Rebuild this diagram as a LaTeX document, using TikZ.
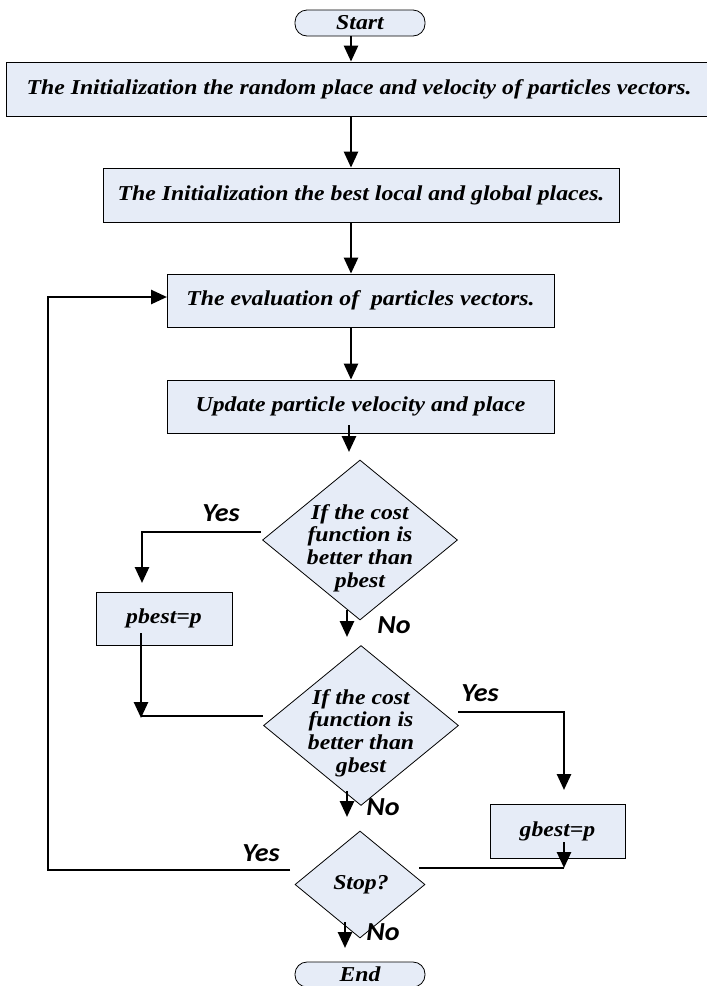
\documentclass[tikz,border=0pt]{standalone}
\usepackage{fontspec}
\setmainfont{Liberation Serif}[FakeStretch=1.12]
\newfontfamily\lblfont{Carlito}[FakeStretch=1.08]
\usetikzlibrary{shapes.geometric,arrows.meta}
\definecolor{boxfill}{RGB}{230,236,247}
\begin{document}
\begin{tikzpicture}[x=1pt,y=-1pt,
  txt/.style={font=\fontsize{21.2}{22.7}\selectfont\bfseries\itshape},
  box/.style={txt, draw=black, line width=0.8pt, fill=boxfill, inner sep=0pt},
  term/.style={box, rounded corners=12pt, minimum width=130pt, minimum height=26pt},
  dec/.style={diamond, draw=black, line width=0.8pt, fill=boxfill, inner sep=0pt},
  dtext/.style={txt, align=center},
  conn/.style={line width=2.6pt},
  arr/.style={conn, -{Triangle[width=14pt,length=16pt]}},
  lbl/.style={font=\fontsize{26}{26}\selectfont\lblfont\bfseries\itshape}]
\useasboundingbox (0,0) rectangle (707,986);

% nodes
\node[term] (start) at (360,23) {Start};
\node[box, minimum width=706pt, minimum height=54pt] (init) at (359,89)
  {The Initialization the random place and velocity of particles vectors.};
\node[box, minimum width=516pt, minimum height=54pt] (best) at (361,195)
  {The Initialization the best local and global places.};
\node[box, minimum width=387pt, minimum height=53pt] (eval) at (360.5,300.5)
  {The evaluation of~ particles vectors.};
\node[box, minimum width=387pt, minimum height=53pt] (upd) at (360.5,406.5)
  {Update particle velocity and place};
\node[dec, minimum width=195pt, minimum height=160pt] (d1) at (360,540) {};
\node[dtext] (d1t) at (360,548) {If the cost\\function is\\better than\\pbest};
\node[box, minimum width=136pt, minimum height=53pt] (pb) at (164,618.5) {pbest=p};
\node[dec, minimum width=195pt, minimum height=160pt] (d2) at (361,725.5) {};
\node[dtext] (d2t) at (361,733) {If the cost\\function is\\better than\\gbest};
\node[box, minimum width=135pt, minimum height=54pt] (gb) at (557.5,831) {gbest=p};
\node[dec, minimum width=130pt, minimum height=107pt] (stop) at (360,884.5) {};
\node[txt] (stopt) at (361,885) {Stop?};
\node[term, minimum height=25pt] (end) at (360,974.5) {End};

% labels
\node[lbl] (y1) at (221,513) {Yes};
\node[lbl] (n1) at (394,625) {No};
\node[lbl] (y2) at (480,693) {Yes};
\node[lbl] (n2) at (383,807) {No};
\node[lbl] (y3) at (261,853) {Yes};
\node[lbl] (n3) at (383,932) {No};

% coordinates
\coordinate (xa) at (351,0);
\coordinate (u1) at (349,425);
\coordinate (u2) at (349,452);
\coordinate (a1) at (347,610);
\coordinate (a2) at (347,637);
\coordinate (b1) at (347,791);
\coordinate (b2) at (347,817);
\coordinate (c1) at (345,922);
\coordinate (c2) at (345,948);
\coordinate (ya) at (261,532);
\coordinate (yb) at (142,532);
\coordinate (yc) at (142,583);
\coordinate (pa) at (141,633);
\coordinate (pbb) at (141,718);
\coordinate (pc) at (141,716);
\coordinate (pd) at (263,716);
\coordinate (ga) at (458,712);
\coordinate (gbb) at (564,712);
\coordinate (gc) at (564,790);
\coordinate (gd) at (564,842);
\coordinate (ge) at (564,868);
\coordinate (gf) at (419,868);
\coordinate (sa) at (290,870);
\coordinate (sb) at (48,870);
\coordinate (sc) at (48,297);
\coordinate (sd) at (167,297);

% connectors
\draw[arr] (start.south -| xa) -- (init.north -| xa);
\draw[arr] (init.south -| xa) -- (best.north -| xa);
\draw[arr] (best.south -| xa) -- (eval.north -| xa);
\draw[arr] (eval.south -| xa) -- (upd.north -| xa);
\draw[arr] (u1) -- (u2);
\draw[arr] (a1) -- (a2);
\draw[arr] (b1) -- (b2);
\draw[arr] (c1) -- (c2);
\draw[arr] (ya) -- (yb) -- (yc);
\draw[arr] (pa) -- (pbb);
\draw[conn] (pc) -- (pd);
\draw[arr] (ga) -- (gbb) -- (gc);
\draw[arr] (gd) -- (ge);
\draw[conn] (ge) -- (gf);
\draw[arr] (sa) -- (sb) -- (sc) -- (sd);
\end{tikzpicture}
\end{document}
